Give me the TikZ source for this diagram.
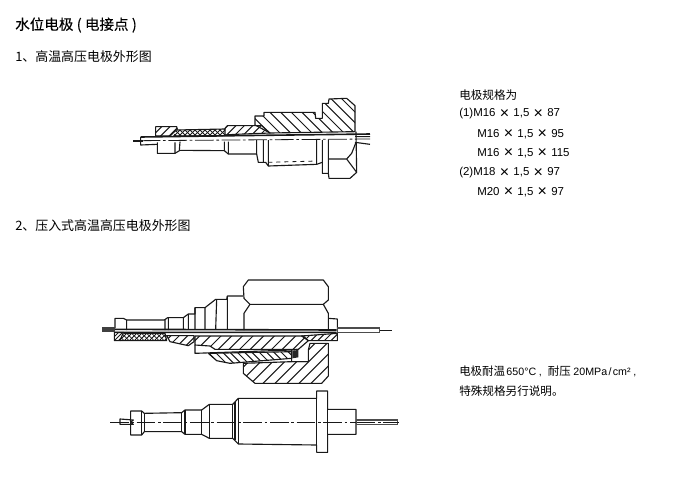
\documentclass[tikz,border=0pt]{standalone}
\usepackage{fontspec}
\setmainfont{Liberation Sans}
\newfontfamily\cjk{Noto Sans CJK SC}
\newfontfamily\cjkb[FakeBold=0.2]{Noto Sans CJK SC}
\newcommand{\tms}{\hspace{3.2pt}\raisebox{-1pt}{\fontsize{12}{10}\selectfont ×}\hspace{3.2pt}}
\tikzset{
  px/.style={x=0.75pt,y=-0.75pt},
  zoomed/.style={x=0.25pt,y=-0.25pt},
  ol/.style={draw=black!90,line width=0.85pt,line join=round},
  thin line/.style={draw=black!90,line width=0.6pt},
  heavy/.style={draw=black!90,line width=1.2pt},
  axisline/.style={draw=black!90,line width=0.6pt,dash pattern=on 14pt off 2pt on 2pt off 2pt},
  title/.style={anchor=west,inner sep=0pt,font=\cjkb\fontsize{10.9}{12}\selectfont,text=black},
  lbl/.style={anchor=west,inner sep=0pt,font=\fontsize{8.6}{10}\selectfont,text=black},
  head/.style={anchor=west,inner sep=0pt,font=\cjk\fontsize{9.7}{11}\selectfont,text=black},
}
\newcommand{\hatchR}[4]{\begin{scope}\clip #1;\foreach \q in {#2,#3,...,#4}{\draw[thin line,line width=0.75pt] (\q,-100)--++(700,700);}\end{scope}\draw[ol] #1;}
\newcommand{\hatchL}[4]{\begin{scope}\clip #1;\foreach \q in {#2,#3,...,#4}{\draw[thin line,line width=0.75pt] (\q,-100)--++(-700,700);}\end{scope}\draw[ol] #1;}
\begin{document}
\begin{tikzpicture}[px]
\useasboundingbox[fill=white] (0,0) rectangle (683,486);
% texts
\node[title] (t0) at (15,25) {水位电极\hspace{2.5pt}(\hspace{2.5pt}电接点\hspace{2.5pt})};
\node[head] (t1) at (15,57) {1、高温高压电极外形图};
\node[head] (t2) at (15,226) {2、压入式高温高压电极外形图};
\node[lbl,font=\cjk\fontsize{8.7}{10}\selectfont] (s0) at (459,95) {电极规格为};
\node[lbl] (s1) at (459,114) {(1)M16\tms 1,5\tms 87};
\node[lbl] (s2) at (477,134) {M16\tms 1,5\tms 95};
\node[lbl] (s3) at (477,153) {M16\tms 1,5\tms 115};
\node[lbl] (s4) at (459,173) {(2)M18\tms 1,5\tms 97};
\node[lbl] (s5) at (477,192) {M20\tms 1,5\tms 97};
\node[lbl] (n1) at (459,371) {{\cjk 电极耐温}\hspace{1pt}{\fontsize{8}{10}\selectfont 650°C\hspace{2pt},\hspace{4.5pt}}{\cjk 耐压}\hspace{2pt}{\fontsize{8}{10}\selectfont 20MPa\hspace{1pt}/\hspace{1pt}cm²\hspace{2pt},}};
\node[lbl,font=\cjk\fontsize{8.7}{10}\selectfont] (n2) at (459,391) {特殊规格另行说明。};

% figure 1
\begin{scope}[shift={(120,85)},zoomed]
\hatchR{(405,120)--(405,93)--(432,93)--(432,82)--(585,82)--(587,100)--(607,100)--(607,55)--(625,55)--(627,42)--(680,40)--(705,62)--(705,140)--(450,144)--cycle}{172}{204}{560}
\hatchL{(315,130)--(322,122)--(425,122)--(450,144)--(345,148)--(315,150)--cycle}{420}{445}{700}
\hatchL{(107,125)--(170,125)--(172,132)--(150,153)--(107,153)--cycle}{200}{225}{425}
\begin{scope}
\clip (170,135)--(315,132)--(315,152)--(160,153)--cycle;
\foreach \q in {150,165,...,560}{\draw[thin line] (\q,0)--++(-200,200);}
\foreach \q in {-60,-45,...,300}{\draw[thin line] (\q,0)--++(200,200);}
\end{scope}
\draw[ol] (170,135)--(315,132) (160,153)--(315,152);
% shaft
\draw[heavy] (62,156)--(350,152)--(750,147);
\draw[ol] (705,155)--(750,155) (705,172)--(750,178);
\draw[axisline] (65,167)--(750,162);
\draw[ol] (40,168)--(70,168);
\draw[ol] (62,156)--(62,180)--(112,178);
% lower half
\draw[ol] (112,172)--(112,205)--(165,205)--(180,196)--(313,197)--(325,207)--(410,207)--(415,232)--(437,232)--(445,243)--(590,238)--(607,232);
\draw[ol] (607,165)--(607,265)--(625,265)--(627,280)--(690,280)--(710,262)--(708,140);
\draw[ol] (165,172)--(165,205) (180,170)--(178,196) (313,170)--(313,197) (325,170)--(325,207) (410,165)--(410,207) (430,165)--(430,232) (445,165)--(445,243) (590,163)--(590,238) (625,163)--(625,265);
\draw[ol] (625,222)--(680,222)--(695,205)--(708,172) (680,222)--(710,262);
\draw[thin line,dashed] (445,232)--(590,228);
\end{scope}

% figure 2
\begin{scope}[shift={(95,270)},zoomed]
\draw[ol] (460,30)--(685,30)--(700,50)--(700,90)--(685,103)--(465,103)--(447,85)--(445,50)--cycle;
\draw[ol] (465,103)--(447,130)--(447,180) (685,103)--(700,130)--(700,180);
\draw[ol] (700,145)--(727,147)--(727,180);
\draw[ol] (60,175)--(60,145)--(85,145)--(95,150)--(208,150)--(218,143)--(265,143)--(280,132)--(300,132)--(300,113)--(330,113)--(362,88)--(395,88)--(397,78)--(445,78);
\draw[ol] (95,150)--(95,180) (210,148)--(210,180) (220,143)--(220,180) (265,143)--(265,178) (280,132)--(280,178) (300,113)--(300,178) (330,113)--(330,178) (365,88)--(362,178) (397,78)--(397,178);
% electrode
\fill[black!75] (20,170) rectangle (60,185);
\draw[heavy] (60,178)--(725,180) (60,187)--(725,187);
\fill[black!70] (727,172) rectangle (855,188);
\fill[white] (730,176) rectangle (852,185);
\draw[ol] (855,181)--(890,181);
% hatched parts
\hatchL{(58,187)--(85,187)--(75,212)--(58,212)--cycle}{250}{262}{400}
\begin{scope}
\clip (85,190)--(210,190)--(215,212)--(75,212)--cycle;
\foreach \q in {150,165,...,560}{\draw[thin line] (\q,0)--++(-250,250);}
\foreach \q in {-200,-185,...,250}{\draw[thin line] (\q,0)--++(250,250);}
\end{scope}
\draw[ol] (85,190)--(210,190)--(215,212)--(75,212);
\hatchL{(215,197)--(297,197)--(297,215)--(280,227)--(225,215)--cycle}{500}{525}{700}
\hatchL{(300,198)--(625,198)--(640,212)--(610,238)--(360,238)--(345,228)--(300,225)--cycle}{580}{612}{1000}
\hatchR{(340,250)--(590,245)--(590,265)--(405,280)--(365,272)--cycle}{-30}{-8}{260}
\hatchL{(645,220)--(700,220)--(700,318)--(680,340)--(480,340)--(445,310)--(445,280)--(590,275)--(640,275)--(640,240)--cycle}{800}{836}{1200}
\hatchL{(620,198)--(727,190)--(727,212)--(640,212)--cycle}{900}{920}{1060}
\draw[ol] (300,225)--(300,250)--(590,240)--(610,238) (590,240)--(590,275)--(640,275);
\fill[black!85] (592,242)--(610,240)--(610,262)--(592,265)--cycle;
\end{scope}

% figure 3
\begin{scope}[shift={(100,380)},zoomed]
\draw[ol] (92,93)--(125,93)--(133,100)--(245,98)--(255,90)--(305,90)--(328,73)--(398,73)--(415,55)--(650,55)--(650,33)--(683,33)--(683,88)--(768,88)--(768,163)--(683,163)--(683,217)--(650,217)--(650,195)--(415,192)--(398,175)--(328,175)--(305,163)--(255,163)--(245,155)--(133,155)--(125,165)--(92,165)--cycle;
\draw[ol] (125,93)--(125,165) (133,100)--(133,155) (245,98)--(245,155) (255,90)--(255,163) (305,90)--(305,163) (328,73)--(328,175) (398,73)--(398,175) (405,65)--(405,180) (415,55)--(415,192) (650,55)--(650,195) (683,88)--(683,163);
\draw[ol] (60,117)--(100,120)--(92,127)--(100,133)--(60,133)--cycle;
\draw[axisline] (30,127)--(895,127);
\fill[black!70] (768,118) rectangle (893,136);
\fill[white] (770,122) rectangle (890,132);
\draw[axisline] (770,127)--(895,127);
\end{scope}
\end{tikzpicture}
\end{document}
